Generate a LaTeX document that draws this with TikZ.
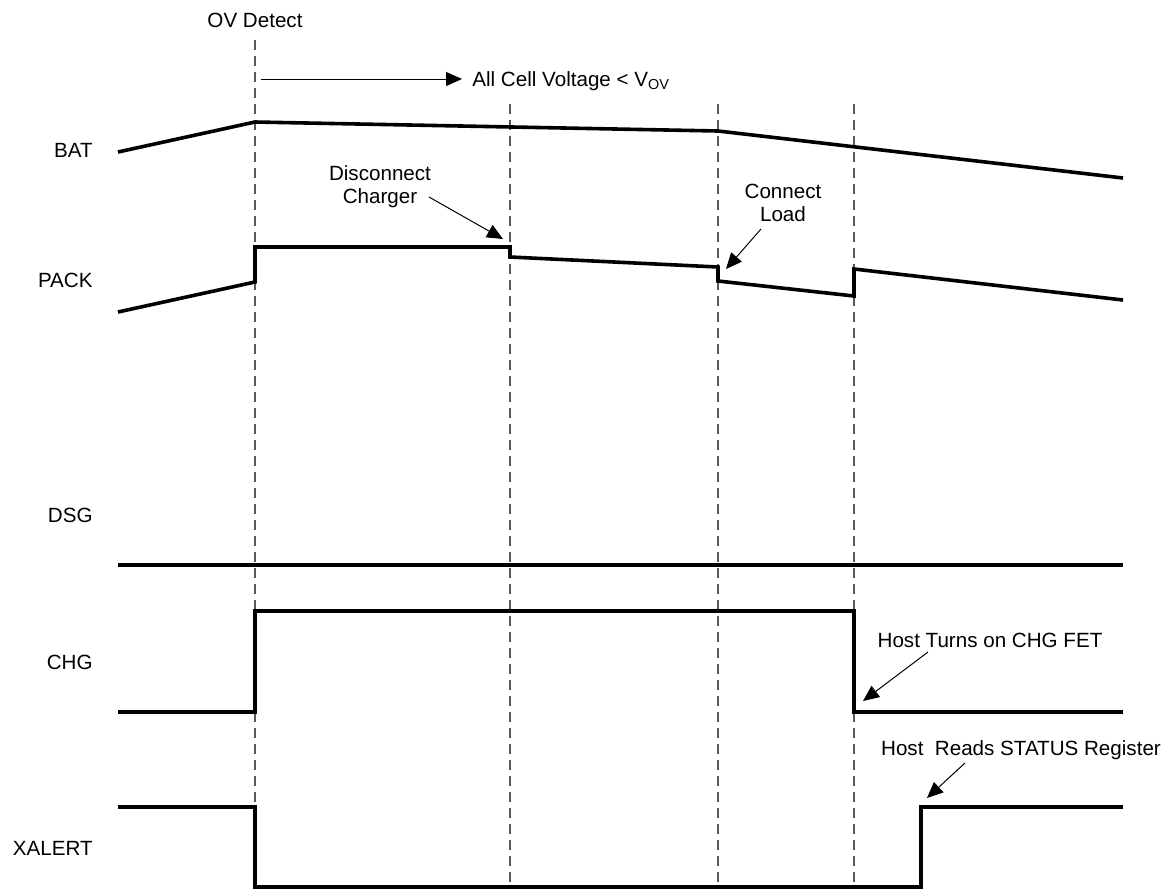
\documentclass[tikz,border=0pt]{standalone}
\usepackage{fontspec}
\setmainfont{Liberation Sans}
\usetikzlibrary{arrows.meta}

\begin{document}
\begin{tikzpicture}[x=0.5pt,y=-0.5pt,
  signal/.style={line width=1.8pt,line join=miter},
  guide/.style={dash pattern=on 5pt off 3pt,line width=0.6pt,black!65},
  note/.style={-{Triangle[length=8pt,width=7pt]},line width=0.5pt},
  sig/.style={anchor=east,inner sep=0pt,font=\fontsize{10.3}{12}\selectfont},
  txt/.style={inner sep=0pt,align=center,font=\fontsize{10.3}{11.5}\selectfont}]
\useasboundingbox (0,0) rectangle (1169,890);

% guide lines
\node[txt] (ov) at (255,20) {OV Detect};
\coordinate (t0) at (255,40);
\draw[guide] (t0) -- (255,888);
\foreach \t/\x in {t1/510,t2/718,t3/854} {
  \coordinate (\t) at (\x,104);
  \draw[guide] (\t) -- (\x,888);
}
\coordinate (ovs) at (261,79);
\coordinate (ove) at (462,79);
\draw[note] (ovs) -- (ove);
\node[txt,anchor=base west] (vov) at (472,86) {All Cell Voltage < V\textsubscript{OV}};

% signal names
\node[sig] (bat) at (93,150) {BAT};
\node[sig] (pack) at (93,280) {PACK};
\node[sig] (dsg) at (93,515) {DSG};
\node[sig] (chg) at (93,662) {CHG};
\node[sig] (xalert) at (93,848) {XALERT};

% waveforms
\draw[signal] (118,152) -- (255,122) -- (718,131) -- (1123,178);
\draw[signal] (118,312) -- (255,282) -- (255,247) -- (510,247) -- (510,257)
  -- (718,267) -- (718,281) -- (854,296) -- (854,269) -- (1123,300);
\draw[signal] (118,565) -- (1123,565);
\draw[signal] (118,712) -- (255,712) -- (255,611) -- (854,611) -- (854,712) -- (1123,712);
\draw[signal] (118,807) -- (255,807) -- (255,887) -- (921,887) -- (921,807) -- (1123,807);

% annotations
\node[txt] (disc) at (380,187) {Disconnect\\Charger};
\coordinate (disc0) at (429,197);
\coordinate (disc1) at (503,239);
\draw[note] (disc0) -- (disc1);

\node[txt] (load) at (783,203) {Connect\\Load};
\coordinate (load0) at (761,229);
\coordinate (load1) at (726,269);
\draw[note] (load0) -- (load1);

\node[txt] (fet) at (990,640) {Host Turns on CHG FET};
\coordinate (fet0) at (928,652);
\coordinate (fet1) at (863,701);
\draw[note] (fet0) -- (fet1);

\node[txt] (rd) at (1021,750) {Host~ Reads STATUS Register};
\coordinate (rd0) at (965,763);
\coordinate (rd1) at (927,798);
\draw[note] (rd0) -- (rd1);
\end{tikzpicture}
\end{document}
